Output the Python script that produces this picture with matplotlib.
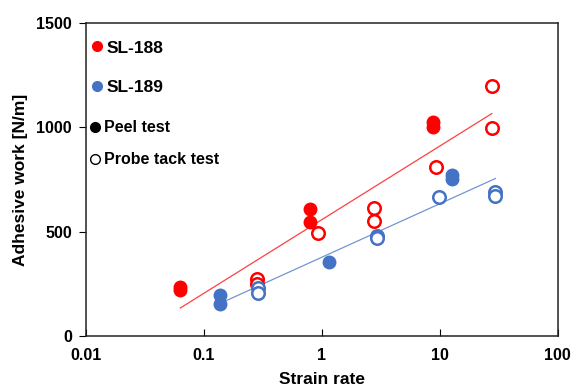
import numpy as np
import matplotlib
matplotlib.use("Agg")
import matplotlib.pyplot as plt
from matplotlib.lines import Line2D

plt.rcParams['font.family'] = ['Liberation Sans', 'DejaVu Sans']
plt.rcParams['font.weight'] = 'bold'

#
# Donnees
sl188_peel_x	= [0.063, 0.063, 0.80, 0.80, 8.7, 8.7]
sl188_peel_y	= [235, 222, 608, 546, 1025, 1003]
sl188_probe_x	= [0.28, 0.28, 0.93, 2.76, 2.76, 9.2, 27.6, 27.6]
sl188_probe_y	= [273, 250, 494, 613, 551, 810, 1198, 998]

sl189_peel_x	= [0.137, 0.137, 1.15, 12.7, 12.7]
sl189_peel_y	= [195, 155, 357, 771, 752]
sl189_probe_x	= [0.29, 0.29, 2.93, 2.93, 9.8, 29.6, 29.6]
sl189_probe_y	= [232, 208, 478, 470, 666, 690, 671]

xticks		= [0.01, 0.1, 1, 10, 100]
xticklabels	= ["0.01", "0.1", "1", "10", "100"]
yticks		= [0, 500, 1000, 1500]

RED		= "#FF0000"
BLUE	= "#4472C4"

def trend(ax, xs, ys, color):
	# regression logarithmique (comme la trendline Excel)
	lx = np.log10(xs)
	a, b = np.polyfit(lx, ys, 1)
	xx = np.array([min(xs), max(xs)])
	ax.plot(xx, a * np.log10(xx) + b, color=color, lw=0.9, alpha=0.75, zorder=1)

def main():
	fig = plt.figure(figsize=(5.74, 3.92), dpi=100)
	ax = fig.add_axes([0.1498, 0.1429, 0.822, 0.798])

	ms = 9
	ax.plot(sl188_peel_x, sl188_peel_y, 'o', color=RED, ms=ms, zorder=3)
	ax.plot(sl188_probe_x, sl188_probe_y, 'o', mfc='white', mec=RED, mew=1.8, ms=ms, zorder=3)
	ax.plot(sl189_peel_x, sl189_peel_y, 'o', color=BLUE, ms=ms, zorder=3)
	ax.plot(sl189_probe_x, sl189_probe_y, 'o', mfc='white', mec=BLUE, mew=1.8, ms=ms, zorder=3)

	trend(ax, sl188_peel_x + sl188_probe_x, sl188_peel_y + sl188_probe_y, RED)
	trend(ax, sl189_peel_x + sl189_probe_x, sl189_peel_y + sl189_probe_y, BLUE)

	ax.set_xscale('log')
	ax.set_xlim(0.01, 100)
	ax.set_ylim(0, 1500)
	ax.set_xticks(xticks)
	ax.set_xticklabels(xticklabels)
	ax.minorticks_off()
	ax.set_yticks(yticks)
	ax.tick_params(axis='x', direction='in', length=5, labelsize=11.5, pad=9)
	ax.tick_params(axis='y', direction='out', length=5, labelsize=11.5, pad=5)
	for s in ax.spines.values():
		s.set_linewidth(1.1)
		s.set_color('#222222')

	ax.set_xlabel("Strain rate", fontsize=12.5, fontweight='bold', labelpad=6)
	ax.set_ylabel("Adhesive work [N/m]", fontsize=12.5, fontweight='bold', labelpad=6)

	#
	# Legendes
	h1 = [Line2D([], [], marker='o', ls='', color=RED, ms=7),
		Line2D([], [], marker='o', ls='', color=BLUE, ms=7)]
	leg1 = ax.legend(h1, ["SL-188", "SL-189"], loc='upper left', bbox_to_anchor=(-0.028, 0.995),
		frameon=False, handlelength=1.0, handletextpad=0.05, labelspacing=1.4, prop={'size': 12.5, 'weight': 'bold'})
	ax.add_artist(leg1)
	h2 = [Line2D([], [], marker='o', ls='', color='black', ms=7),
		Line2D([], [], marker='o', ls='', mfc='white', mec='black', mew=1, ms=7)]
	ax.legend(h2, ["Peel test", "Probe tack test"], loc='upper left', bbox_to_anchor=(-0.028, 0.735),
		frameon=False, handlelength=1.0, handletextpad=0.05, labelspacing=1.05, prop={'size': 11.5, 'weight': 'bold'})

	fig.savefig("out.png", dpi=100)

if __name__ == "__main__":
	main()
